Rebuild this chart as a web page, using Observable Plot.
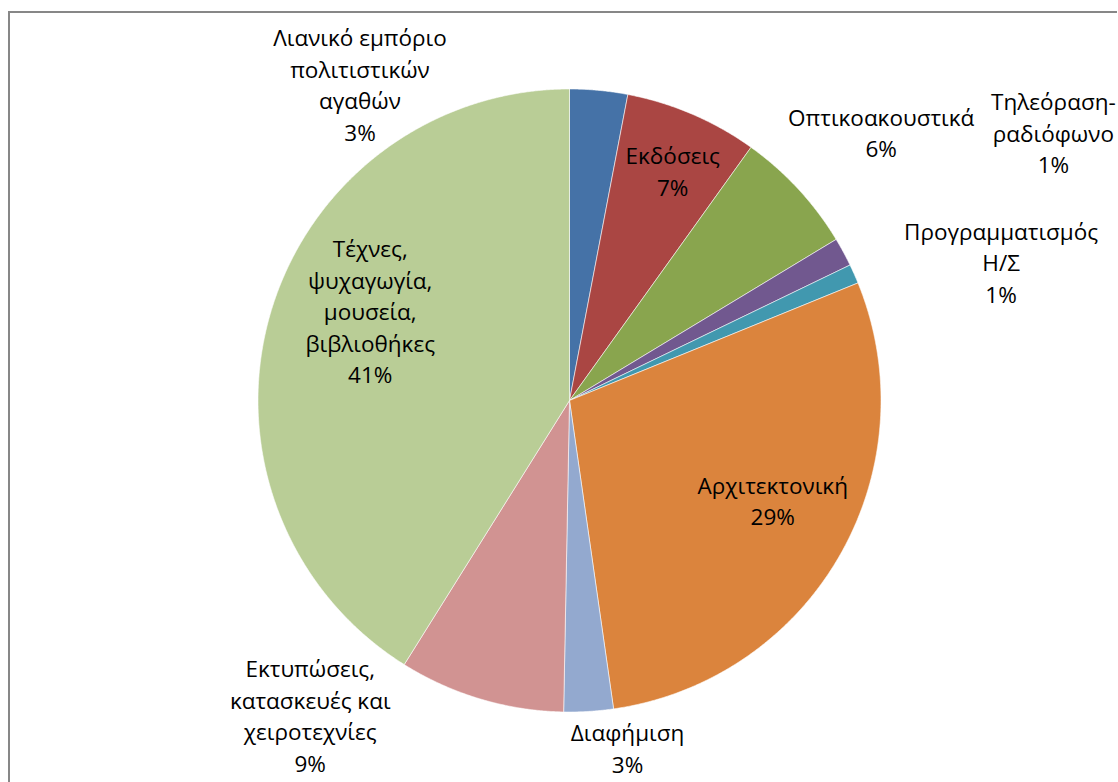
<!DOCTYPE html>
<html>
<head>
<meta charset="utf-8">
<script src="https://cdn.jsdelivr.net/npm/d3@7"></script>
<script src="https://cdn.jsdelivr.net/npm/@observablehq/plot@0.6"></script>
<style>
  body { margin: 0; background: #fff; }
  #wrap { position: relative; width: 1118px; height: 782px; overflow: hidden; background: #fff; }
  #chart { position: absolute; left: 0; top: 0; }
  #frame { position: absolute; left: 8px; top: 11px; width: 1109px; height: 800px;
           border-left: 2px solid #878787; border-top: 2px solid #878787; box-sizing: border-box; pointer-events: none; }
</style>
</head>
<body>
<div id="wrap"><div id="chart"></div><div id="frame"></div></div>
<script>
// ---- data (clockwise from 12 o'clock) ----
const categories = [
  "Λιανικό εμπόριο πολιτιστικών αγαθών",
  "Εκδόσεις",
  "Οπτικοακουστικά",
  "Τηλεόραση-ραδιόφωνο",
  "Προγραμματισμός Η/Σ",
  "Αρχιτεκτονική",
  "Διαφήμιση",
  "Εκτυπώσεις, κατασκευές και χειροτεχνίες",
  "Τέχνες, ψυχαγωγία, μουσεία, βιβλιοθήκες"
];
const values = [3.0, 6.9, 6.45, 1.49, 1.0, 28.9, 2.56, 8.6, 41.1];
const labelNames = [
  "Λιανικό εμπόριο\nπολιτιστικών\nαγαθών",
  "Εκδόσεις",
  "Οπτικοακουστικά",
  "Τηλεόραση-\nραδιόφωνο",
  "Προγραμματισμός\nΗ/Σ",
  "Αρχιτεκτονική",
  "Διαφήμιση",
  "Εκτυπώσεις,\nκατασκευές και\nχειροτεχνίες",
  "Τέχνες,\nψυχαγωγία,\nμουσεία,\nβιβλιοθήκες"
];

// ---- style / layout ----
const colors = ["#4572A7", "#AA4643", "#89A54E", "#71588F", "#4198AF",
                "#DB843D", "#93A9CF", "#D19392", "#B9CD96"];
// label placement: radius (in pie radii) and angle (degrees clockwise from top)
const labelRadius = [1.209, 0.799, 1.314, 1.771, 1.452, 0.731, 1.141, 1.317, 0.697];
const labelAngle  = [-33.8, 24.5, 49.6, 61.3, 72.6, 116.8, 170.6, 219.2, 293.4];

const total = d3.sum(values);
const rows = categories.map((name, i) => ({name, value: values[i]}));
const arcs = d3.pie().sort(null).value(d => d.value)(rows);

const poly = [];
arcs.forEach(a => {
  const name = a.data.name;
  const n = Math.max(4, Math.ceil((a.endAngle - a.startAngle) / (Math.PI / 720)));
  poly.push({name, x: 0, y: 0});
  for (let k = 0; k <= n; k++) {
    const t = a.startAngle + (a.endAngle - a.startAngle) * k / n;
    poly.push({name, x: Math.sin(t), y: Math.cos(t)});
  }
  poly.push({name, x: 0, y: 0});
});

const labels = rows.map((d, i) => {
  const t = labelAngle[i] * Math.PI / 180;
  return {
    x: labelRadius[i] * Math.sin(t),
    y: labelRadius[i] * Math.cos(t),
    text: labelNames[i] + "\n" + Math.round(d.value / total * 100) + "%"
  };
});

const fontSize = 22.5;
const chart = Plot.plot({
  width: 1118,
  height: 782,
  marginLeft: 257.5,
  marginRight: 237.5,
  marginTop: 88.5,
  marginBottom: 70.5,
  style: {background: "transparent", fontFamily: "'Open Sans', sans-serif"},
  x: {domain: [-1, 1], axis: null},
  y: {domain: [-1, 1], axis: null},
  color: {domain: categories, range: colors},
  marks: [
    Plot.line(poly, {x: "x", y: "y", z: "name", fill: "name", stroke: "#ffffff",
                     strokeWidth: 0.8, strokeOpacity: 0.7, curve: "linear"}),
    Plot.text(labels, {x: "x", y: "y", text: "text", fill: "#000",
                       fontSize, lineHeight: 31.5 / fontSize, dy: -4,
                       textAnchor: "middle", lineAnchor: "middle",
                       fontFamily: "'Open Sans', sans-serif"})
  ]
});
document.getElementById("chart").appendChild(chart);
</script>
</body>
</html>
